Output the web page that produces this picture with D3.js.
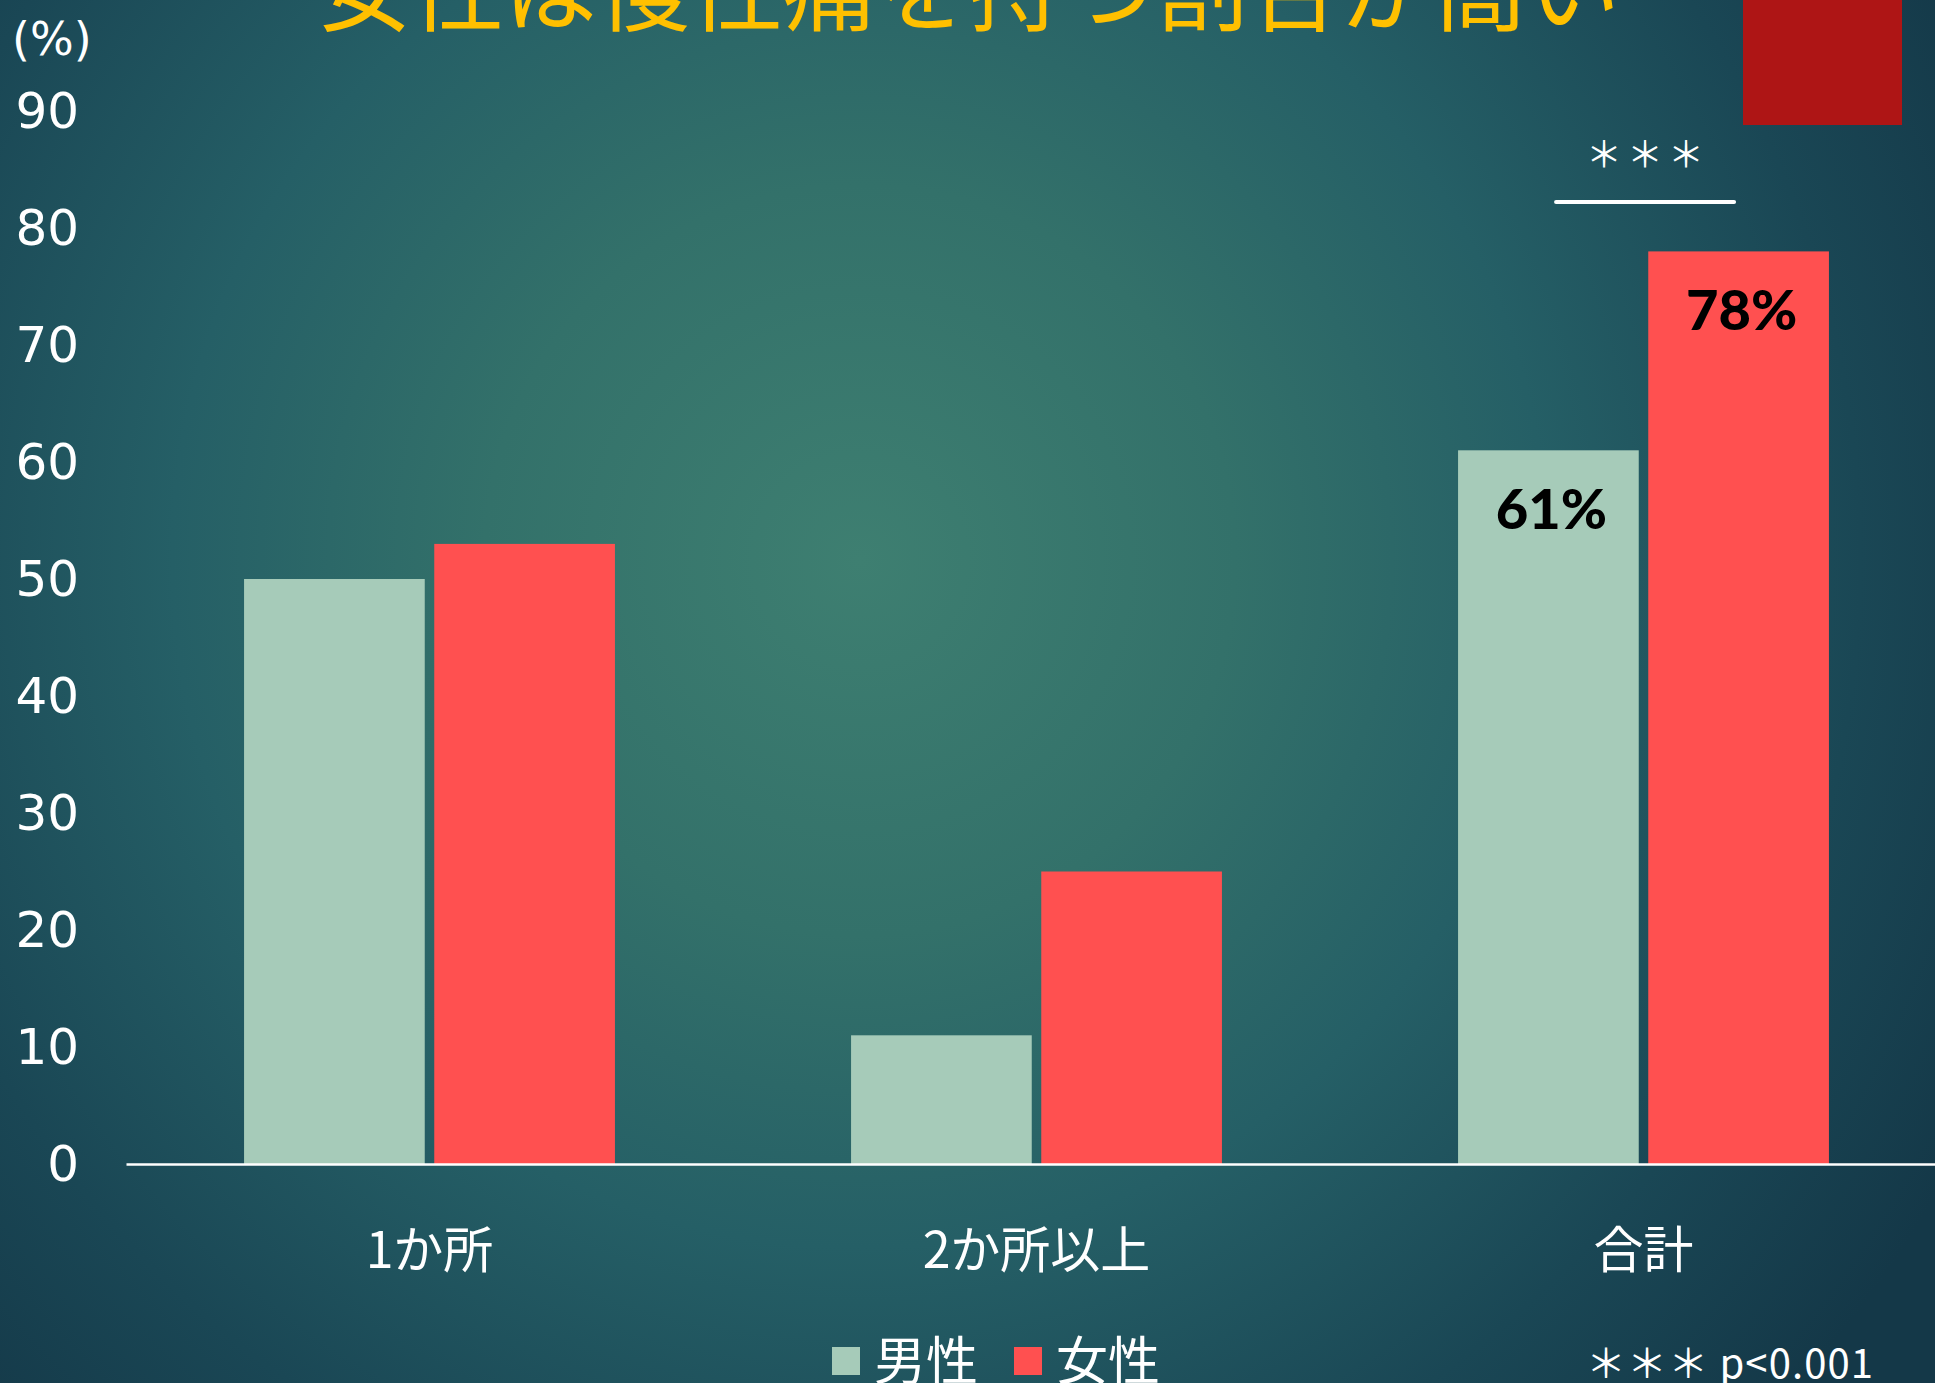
<!DOCTYPE html>
<html>
<head>
<meta charset="utf-8">
<script src="https://cdn.jsdelivr.net/npm/d3@7"></script>
<style>
  html, body { margin: 0; padding: 0; background: #173e4d; }
  svg { display: block; }
</style>
</head>
<body>
<div id="chart"></div>
<script>
// data
const categories = ["1か所", "2か所以上", "合計"];
const seriesNames = ["男性", "女性"];
const maleValues = [50, 11, 61];
const femaleValues = [53, 25, 78];
const yTicks = [0, 10, 20, 30, 40, 50, 60, 70, 80, 90];
const pctLabels = [{ cat: "合計", series: "男性", text: "61%" }, { cat: "合計", series: "女性", text: "78%" }];

const width = 1935, height = 1383;
const colors = { "男性": "#a6cbb9", "女性": "#ff5050" };
const latin = "'DejaVu Sans', sans-serif";
const cjk = "'Noto Sans CJK JP', 'Noto Sans', sans-serif";

const rows = categories.map((c, i) => ({ cat: c, "男性": maleValues[i], "女性": femaleValues[i] }));

const svg = d3.select("#chart").append("svg")
    .attr("width", width)
    .attr("height", height);

// background radial gradient
const defs = svg.append("defs");
const grad = defs.append("radialGradient")
    .attr("id", "bg")
    .attr("gradientUnits", "userSpaceOnUse")
    .attr("cx", 860).attr("cy", 560).attr("r", 1250);
[[0, "#3e7f71"], [0.3, "#33716a"], [0.55, "#255f66"], [0.8, "#1a4755"], [1, "#143848"]]
    .forEach(s => grad.append("stop").attr("offset", s[0]).attr("stop-color", s[1]));

svg.append("rect").attr("width", width).attr("height", height).attr("fill", "url(#bg)");

// scales
const x0 = d3.scaleBand().domain(categories).range([126, 1947]).paddingInner(0.389).paddingOuter(0.1945);
const x1 = d3.scaleBand().domain(seriesNames).range([0, x0.bandwidth()]).paddingInner(0.05);
const y = d3.scaleLinear().domain([0, 90]).range([1164, 111]);

// title (cut off at the top)
svg.append("text")
    .attr("x", 318).attr("y", 24)
    .attr("font-family", cjk)
    .attr("font-size", 93)
    .attr("fill", "#ffc000")
    .text("女性は慢性痛を持つ割合が高い");

// red block in the corner
svg.append("rect")
    .attr("x", 1743).attr("y", 0)
    .attr("width", 159).attr("height", 125)
    .attr("fill", "#ae1515");

// bars
const g = svg.append("g");
g.selectAll("g.grp")
    .data(rows)
    .join("g")
    .attr("class", "grp")
    .attr("transform", d => `translate(${x0(d.cat)},0)`)
    .selectAll("rect")
    .data(d => seriesNames.map(s => ({ key: s, value: d[s] })))
    .join("rect")
    .attr("x", d => x1(d.key))
    .attr("y", d => y(d.value))
    .attr("width", x1.bandwidth())
    .attr("height", d => y(0) - y(d.value))
    .attr("fill", d => colors[d.key]);

// y axis
const yAxis = svg.append("g")
    .attr("transform", "translate(126,0)")
    .call(d3.axisLeft(y).tickValues(yTicks).tickSize(0).tickPadding(47));
yAxis.select(".domain").remove();
yAxis.selectAll("text")
    .attr("font-family", latin)
    .attr("font-size", 50)
    .attr("fill", "#ffffff");

svg.append("text")
    .attr("x", 12).attr("y", 55)
    .attr("font-family", latin)
    .attr("font-size", 46)
    .attr("fill", "#ffffff")
    .text("(%)");

// x axis
const xAxis = svg.append("g")
    .attr("transform", `translate(0,${y(0)})`)
    .call(d3.axisBottom(x0).tickSize(0).tickPadding(68));
xAxis.select(".domain").attr("stroke", "#ffffff").attr("stroke-width", 2.5);
xAxis.selectAll("text")
    .attr("font-family", cjk)
    .attr("font-size", 50)
    .attr("fill", "#ffffff");

// percentage labels on total bars
svg.selectAll("text.pct")
    .data(pctLabels)
    .join("text")
    .attr("class", "pct")
    .attr("x", d => x0(d.cat) + x1(d.series) + x1.bandwidth() / 2 + 3)
    .attr("y", d => y(rows.find(r => r.cat === d.cat)[d.series]) + 57)
    .attr("text-anchor", "middle")
    .attr("dominant-baseline", "central")
    .attr("font-family", "Lato, 'DejaVu Sans', sans-serif")
    .attr("font-weight", 900)
    .attr("font-size", 56)
    .attr("fill", "#000000")
    .text(d => d.text);

// significance marker
const sigX = x0("合計");
svg.append("line")
    .attr("x1", sigX + 98).attr("x2", sigX + 276)
    .attr("y1", 202).attr("y2", 202)
    .attr("stroke", "#ffffff")
    .attr("stroke-width", 4)
    .attr("stroke-linecap", "round");
svg.append("text")
    .attr("x", 1586).attr("y", 152)
    .attr("dominant-baseline", "central")
    .attr("font-family", cjk)
    .attr("font-size", 36)
    .attr("letter-spacing", 5)
    .attr("fill", "#ffffff")
    .text("＊＊＊");

// legend
const legend = svg.append("g").attr("transform", "translate(832,1361)");
const legX = [0, 182];
seriesNames.forEach((s, i) => {
    legend.append("rect")
        .attr("x", legX[i]).attr("y", -14)
        .attr("width", 28).attr("height", 28)
        .attr("fill", colors[s]);
    legend.append("text")
        .attr("x", legX[i] + 42).attr("y", -4)
        .attr("dominant-baseline", "central")
        .attr("font-family", cjk)
        .attr("font-size", 52)
        .attr("fill", "#ffffff")
        .text(s);
});

svg.append("text")
    .attr("x", 1586).attr("y", 1361)
    .attr("dominant-baseline", "central")
    .attr("font-family", cjk)
    .attr("font-size", 40)
    .attr("fill", "#ffffff")
    .text("＊＊＊ p<0.001")
    .attr("textLength", 287)
    .attr("lengthAdjust", "spacing");
</script>
</body>
</html>
